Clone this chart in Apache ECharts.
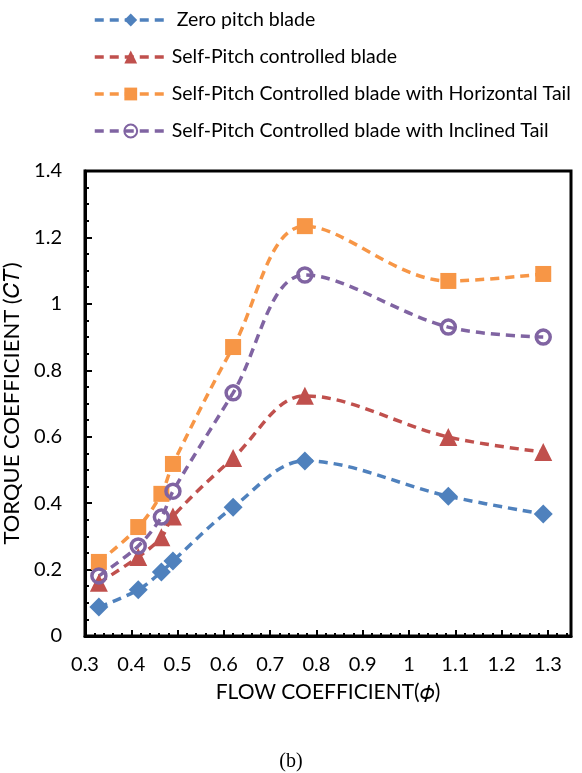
<!DOCTYPE html>
<html>
<head>
<meta charset="utf-8">
<script src="https://cdn.jsdelivr.net/npm/echarts@6/dist/echarts.min.js"></script>
<style>html,body{margin:0;padding:0;background:#fff}#c{width:582px;height:773px}</style>
</head>
<body>
<div id="c"></div>
<script>
const flowCoeff = [0.33, 0.415, 0.465, 0.49, 0.62, 0.775, 1.085, 1.29];
const zeroPitch = [0.087, 0.139, 0.193, 0.226, 0.388, 0.527, 0.421, 0.367];
const selfPitch = [0.160, 0.238, 0.297, 0.360, 0.536, 0.723, 0.599, 0.554];
const horizTail = [0.223, 0.328, 0.428, 0.518, 0.870, 1.234, 1.069, 1.090];
const inclTail  = [0.181, 0.271, 0.358, 0.436, 0.732, 1.087, 0.930, 0.900];
const seriesNames = [' Zero pitch blade', 'Self-Pitch controlled blade', 'Self-Pitch Controlled blade with Horizontal Tail', 'Self-Pitch Controlled blade with Inclined Tail'];
const colors = ['#4F81BD', '#C0504D', '#F79646', '#8064A2'];

const font = 'Lato, "Open Sans", sans-serif';
function pairs(ys){ return flowCoeff.map((x,i)=>[x, ys[i]]); }
function mk(name, ys, color, symbol, size, hollow){
  return {
    name, type:'line', data: pairs(ys), smooth: 0.35,
    symbol, symbolSize: size,
    lineStyle:{color, width:3.5, type:[9,6]},
    itemStyle: hollow ? {color:'rgba(255,255,255,0)', borderColor:color, borderWidth:3.5} : {color},
    z: 3
  };
}
const chart = echarts.init(document.getElementById('c'));
chart.setOption({
  animation:false,
  color: colors,
  textStyle:{fontFamily:font},
  legend:{
    orient:'vertical', left:88, top:5, itemWidth:72, itemHeight:16, itemGap:17,
    lineStyle:{width:3.5},
    textStyle:{fontSize:19.5, color:'#000', fontFamily:font},
    data: seriesNames
  },
  title:{text:'(b)', left:'center', top:752, textStyle:{fontFamily:'"Liberation Serif", "DejaVu Serif", serif', fontWeight:'normal', fontSize:20, color:'#000'}, padding:0, itemGap:0},
  grid:{left:85, right:11, top:171, bottom:137, containLabel:false, outerBoundsMode:'none', show:true, borderColor:'#000', borderWidth:3, backgroundColor:'#fff'},
  xAxis:{
    type:'value', min:0.3, max:1.35, interval:0.1,
    name:'FLOW COEFFICIENT(\u{1D719})', nameLocation:'middle', nameGap:46,
    nameTextStyle:{fontSize:21, color:'#000', fontFamily:font},
    axisLine:{show:true, lineStyle:{color:'#000', width:3}},
    axisTick:{show:true, inside:true, length:6, lineStyle:{color:'#000', width:2}},
    minorTick:{show:true, splitNumber:5, length:3, lineStyle:{color:'#000', width:2}},
    axisLabel:{fontSize:20, color:'#000', margin:19, showMaxLabel:false, formatter:v=>String(Math.round(v*10)/10)},
    splitLine:{show:false}
  },
  yAxis:{
    type:'value', min:0, max:1.4, interval:0.2,
    name:'TORQUE COEFFICIENT (\u{1D436}\u{1D447})', nameLocation:'middle', nameGap:58,
    nameTextStyle:{fontSize:22, color:'#000', fontFamily:font},
    axisLine:{show:true, lineStyle:{color:'#000', width:3}},
    axisTick:{show:true, inside:true, length:7, lineStyle:{color:'#000', width:2}},
    minorTick:{show:true, splitNumber:4, length:4, lineStyle:{color:'#000', width:2}},
    axisLabel:{fontSize:20, color:'#000', margin:23, formatter:v=>String(Math.round(v*10)/10)},
    splitLine:{show:false}
  },
  series:[
    mk(seriesNames[0], zeroPitch, colors[0], 'diamond', 19, false),
    mk(seriesNames[1], selfPitch, colors[1], 'triangle', 18, false),
    mk(seriesNames[2], horizTail, colors[2], 'rect', 16, false),
    mk(seriesNames[3], inclTail, colors[3], 'circle', 14, true)
  ]
});
</script>
</body>
</html>
